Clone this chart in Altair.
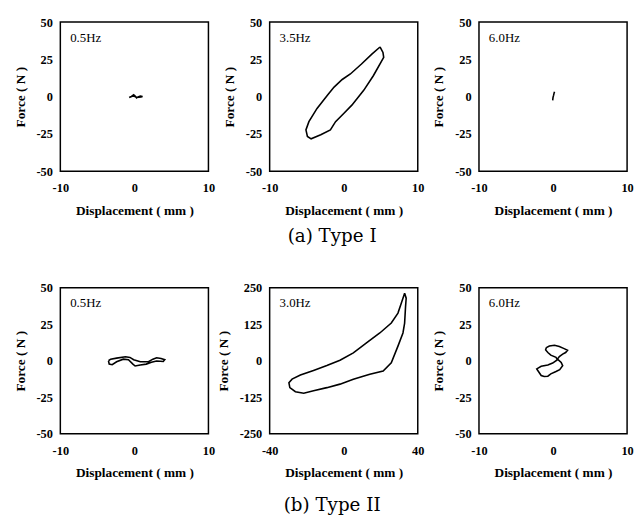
import altair as alt
import pandas as pd

# ---- data ----
# (a) Type I, 0.5 Hz
a1_x = [-0.7, -0.4, -0.1, 0.1, 0.3, 0.5, 0.8, 1.1, 0.9, 0.6, 0.3, 0.0, -0.3, -0.7]
a1_y = [-0.6, 0.2, 1.2, 0.4, -0.9, -0.2, 0.4, 0.1, -0.2, -0.4, -0.5, 0.2, 0.3, -0.6]
# (a) Type I, 3.5 Hz
a2_x = [4.9, 5.3, 5.4, 4.0, 2.7, 1.1, 0.0, -1.1, -1.8, -3.1, -4.4, -4.9, -5.1, -4.7,
        -3.6, -2.2, -1.3, -0.2, 0.9, 2.4, 3.8, 4.9]
a2_y = [33.3, 29.6, 26.3, 14.0, 4.2, -5.7, -11.3, -16.8, -22.3, -25.6, -28.3, -26.7,
        -22.3, -16.8, -7.9, 0.9, 6.4, 11.5, 15.2, 21.9, 28.5, 33.3]
# (a) Type I, 6.0 Hz
a3_x = [-0.05, 0.0, 0.08, 0.15, 0.2]
a3_y = [-2.5, -0.5, 1.0, 2.5, 3.2]
# (b) Type II, 0.5 Hz
b1_x = [-3.5, -3.2, -2.4, -1.2, -0.6, -0.1, 0.8, 1.9, 2.5, 3.0, 3.6, 4.1, 3.9, 3.0, 2.3,
        1.6, 0.8, 0.1, -0.2, -0.8, -1.5, -2.4, -3.0, -3.4, -3.5]
b1_y = [0.0, 1.1, 1.8, 2.7, 2.3, 0.7, -0.7, -0.7, 1.1, 2.0, 1.6, 0.7, -0.5, -0.2, -1.1,
        -2.3, -2.9, -3.6, -2.3, 0.7, 1.1, -0.7, -2.7, -2.3, 0.0]
# (b) Type II, 3.0 Hz
b2_x = [32.9, 33.75, 33.4, 32.9, 32.0, 29.3, 25.7, 21.3, 14.1, 5.2, -2.0, -9.1, -16.3,
        -21.6, -26.1, -29.1, -29.6, -27.9, -23.4, -16.3, -9.1, -2.0, 5.2, 12.3, 19.5,
        25.7, 29.3, 31.1, 32.9]
b2_y = [231, 214, 185, 129, 95, 50, -7, -35, -46, -63, -80, -92, -103, -111, -106, -92,
        -75, -63, -49, -33, -16, 2, 27, 61, 95, 129, 163, 197, 231]
# (b) Type II, 6.0 Hz
b3_x = [-0.9, -0.5, 0.2, 0.85, 1.5, 1.96, 1.7, 1.3, 0.85, 0.6, 1.1, 1.3, 0.9, 0.4, -0.3,
        -0.7, -1.2, -1.6, -1.9, -2.2, -1.6, -0.7, -0.05, 0.6, 0.4, -0.3, -0.7, -1.0, -0.9]
b3_y = [9.0, 10.1, 10.6, 9.7, 8.3, 7.2, 5.6, 4.5, 2.9, 1.1, -1.1, -3.4, -6.1, -7.4, -9.0,
        -10.6, -10.8, -10.1, -7.9, -5.6, -3.8, -2.9, -1.6, 0.7, 2.3, 3.8, 5.6, 7.4, 9.0]

freq_a = ["0.5Hz", "3.5Hz", "6.0Hz"]
freq_b = ["0.5Hz", "3.0Hz", "6.0Hz"]
ticks_small_x = [-10, 0, 10]
ticks_small_y = [-50, -25, 0, 25, 50]
ticks_big_x = [-40, 0, 40]
ticks_big_y = [-250, -125, 0, 125, 250]

LBL = "datum.value < 0 ? '-' + abs(datum.value) : '' + datum.value"
SERIF = "Liberation Serif"


def panel(xs, ys, label, xticks, yticks, h):
    df = pd.DataFrame({"x": xs, "y": ys, "i": list(range(len(xs)))})
    line = alt.Chart(df).mark_line(color="black", strokeWidth=1.6, clip=True).encode(
        x=alt.X("x:Q",
                scale=alt.Scale(domain=[xticks[0], xticks[-1]], nice=False, zero=False),
                axis=alt.Axis(values=xticks, title="Displacement ( mm )", labelExpr=LBL)),
        y=alt.Y("y:Q",
                scale=alt.Scale(domain=[yticks[0], yticks[-1]], nice=False, zero=False),
                axis=alt.Axis(values=yticks, title="Force ( N )", labelExpr=LBL)),
        order="i:Q",
    )
    txt = alt.Chart(pd.DataFrame({"t": [label]})).mark_text(
        align="left", baseline="middle", font=SERIF, fontSize=13, color="black"
    ).encode(x=alt.value(10), y=alt.value(16), text="t:N")
    return alt.layer(line, txt).properties(width=150, height=h)


def caption(text, offset):
    return alt.TitleParams(text, orient="bottom", anchor="middle", font="DejaVu Serif",
                           fontSize=18.5, fontWeight="normal", color="black",
                           offset=offset, dx=9)


row_a = alt.hconcat(
    panel(a1_x, a1_y, freq_a[0], ticks_small_x, ticks_small_y, 151),
    panel(a2_x, a2_y, freq_a[1], ticks_small_x, ticks_small_y, 151),
    panel(a3_x, a3_y, freq_a[2], ticks_small_x, ticks_small_y, 151),
    spacing=62, bounds="flush",
).properties(title=caption("(a) Type I", 10))

row_b = alt.hconcat(
    panel(b1_x, b1_y, freq_b[0], ticks_small_x, ticks_small_y, 148),
    panel(b2_x, b2_y, freq_b[1], ticks_big_x, ticks_big_y, 148),
    panel(b3_x, b3_y, freq_b[2], ticks_small_x, ticks_small_y, 148),
    spacing=62, bounds="flush",
).properties(title=caption("(b) Type II", 16))

chart = alt.vconcat(row_a, row_b, spacing=35).configure_view(
    stroke="black", strokeWidth=1.5
).configure_axis(
    grid=False, domain=False, ticks=False, labelFlush=False,
    labelFont=SERIF, labelFontWeight="bold", labelFontSize=12.5, labelColor="black",
    titleFont=SERIF, titleFontWeight="bold", titleFontSize=13.5, titleColor="black",
).configure_axisY(titlePadding=9, labelPadding=8).configure_axisX(
    titlePadding=9, labelPadding=11
).properties(
    background="white", padding={"left": 4, "top": 4, "right": 0, "bottom": 0}
)

chart.save("out.html", embed_options={"renderer": "svg", "actions": False})
